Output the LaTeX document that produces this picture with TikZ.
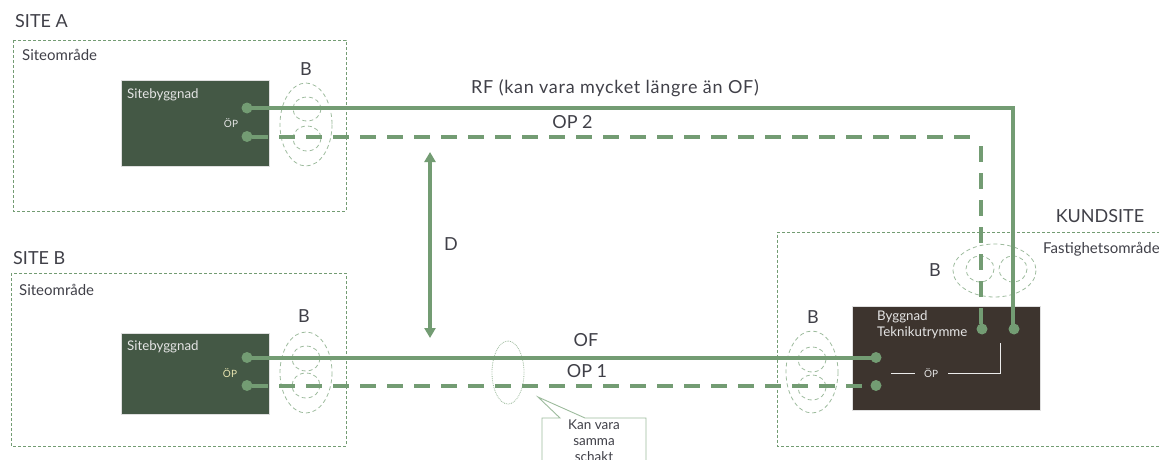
\documentclass[tikz,border=0pt]{standalone}
\usepackage{fontspec}
\setmainfont{Lato}
\usetikzlibrary{arrows.meta}
\definecolor{gline}{HTML}{739C73}
\definecolor{gbox}{HTML}{445845}
\definecolor{bbox}{HTML}{3D342E}
\definecolor{txt}{HTML}{404048}
\definecolor{pale}{HTML}{9DBB9D}
\tikzset{
 x=1pt,y=-1pt,
 area/.style={draw=gline,line width=0.7pt,dash pattern=on 3pt off 2pt},
 bldg/.style={draw=white!75!gray,line width=0.5pt,anchor=north west,inner sep=0pt,outer sep=0pt},
 ringl/.style={draw=pale,line width=0.8pt,dash pattern=on 4pt off 3pt},
 dotn/.style={circle,fill=gline,minimum size=11pt,inner sep=0pt},
 solidc/.style={draw=gline,line width=4pt},
 dashc/.style={draw=gline,line width=4pt,dash pattern=on 16pt off 11pt},
 lab/.style={text=txt,font=\fontsize{18}{20}\selectfont,inner sep=0pt,yshift=-1pt},
 small/.style={text=txt,font=\fontsize{15}{17}\selectfont,inner sep=0pt,anchor=west,yshift=-1pt},
 inb/.style={text=white!80!gray,font=\fontsize{13.3}{15}\selectfont,inner sep=0pt,anchor=west,yshift=-1pt},
 opl/.style={text=white!80!gray,font=\fontsize{10}{11}\selectfont,inner sep=0pt},
 wline/.style={draw=white!85!gray,line width=1pt},
}
\begin{document}
\begin{tikzpicture}
\useasboundingbox (0,0) rectangle (1159,460);
\clip (0,0) rectangle (1159,460);
% areas
\draw[area] (13,40) rectangle (346,211);
\draw[area] (11,273) rectangle (346,446);
\draw[area] (1170,232) -- (777.5,232) -- (777.5,446) -- (1170,446);
% buildings
\node[bldg,fill=gbox,minimum width=148pt,minimum height=86pt] (ba) at (121,80) {};
\node[bldg,fill=gbox,minimum width=148pt,minimum height=81pt] (bb) at (121,333) {};
\node[bldg,fill=bbox,minimum width=188pt,minimum height=104pt] (bk) at (852,306) {};
% rings
\draw[ringl] (306,124.5) ellipse [x radius=26,y radius=41.5];
\draw[ringl] (307,109) ellipse [x radius=14,y radius=12];
\draw[ringl] (307,138.5) ellipse [x radius=14,y radius=12.5];
\draw[ringl] (306,372.5) ellipse [x radius=26,y radius=40.5];
\draw[ringl] (306,358.5) ellipse [x radius=14,y radius=12.5];
\draw[ringl] (306,385.5) ellipse [x radius=14,y radius=12.5];
\draw[ringl] (812,372) ellipse [x radius=26,y radius=41];
\draw[ringl] (812,359.5) ellipse [x radius=14,y radius=12.5];
\draw[ringl] (812,387.5) ellipse [x radius=14,y radius=12.5];
\draw[ringl] (994.5,270.5) ellipse [x radius=41.5,y radius=26.5];
\draw[ringl] (980,269) ellipse [x radius=14,y radius=13];
\draw[ringl] (1013,269) ellipse [x radius=14,y radius=13];
% same-duct ellipse
\draw[pale,line width=0.8pt,densely dotted] (508,372.5) ellipse [x radius=16,y radius=31.5];
% dots
\node[dotn] (a1) at (247,108) {};
\node[dotn] (a2) at (247,136.5) {};
\node[dotn] (b1) at (247,357.5) {};
\node[dotn] (b2) at (247,385.5) {};
\node[dotn] (k1) at (876,357.5) {};
\node[dotn] (k2) at (876,385.5) {};
\node[dotn] (k3) at (982,329) {};
\node[dotn] (k4) at (1014,329) {};
\coordinate (c1) at (1013,108);
\coordinate (c2) at (975,136.5);
\coordinate (c3) at (981,146);
% connectors
\draw[solidc,line join=miter] (a1.center) -- (c1) -- (c1 |- k4.center);
\draw[dashc,dash phase=22pt] (a2.center) -- (c2);
\draw[dashc] (c3) -- (c3 |- k3.center);
\draw[solidc] (b1.center) -- (k1.center);
\draw[dashc,dash phase=22pt] (b2.center) -- (k2.center);
% D arrow
\coordinate (d1) at (430,152);
\coordinate (d2) at (430,338);
\draw[gline,line width=4pt,{Triangle[length=10pt,width=11pt]}-{Triangle[length=10pt,width=11pt]}] (d1) -- (d2);
% white lines inside the customer building
\coordinate (w1) at (891,373);
\coordinate (w2) at (915,373);
\coordinate (w3) at (948,373);
\coordinate (w4) at (1000.5,373);
\coordinate (w5) at (1000.5,343);
\draw[wline] (w1) -- (w2);
\draw[wline] (w3) -- (w4) -- (w5);
% callout
\coordinate (t) at (538,397);
\draw[pale,line width=0.9pt,fill=white] (560,418) -- (t) -- (585,418) -- (646,418) -- (646,470) -- (542,470) -- (542,418) -- cycle;
\node[font=\fontsize{13.5}{16}\selectfont,text=txt,align=center,anchor=north,inner sep=0pt] (ct) at (594,419.5) {Kan vara\\samma\\schakt};
% labels
\node[lab,anchor=west] (sa) at (15,20) {SITE A};
\node[lab,anchor=west] (sb) at (13,257) {SITE B};
\node[lab] (ks) at (1100,215) {KUNDSITE};
\node[small] (oa) at (22,54) {Siteområde};
\node[small] (ob) at (19,289) {Siteområde};
\node[small] (of) at (1043,248) {Fastighetsområde};
\node[inb] (ta) at (127,93.5) {Sitebyggnad};
\node[inb] (tb) at (127,346) {Sitebyggnad};
\node[inb] (tc) at (877,316) {Byggnad};
\node[inb] (td) at (877,332) {Teknikutrymme};
\node[opl] (opa) at (231,123) {ÖP};
\node[opl,text=white!70!yellow!80!gray] (opb) at (230,373) {ÖP};
\node[opl] (opc) at (931,373) {ÖP};
\node[lab] (l1) at (306,68) {B};
\node[lab] (l2) at (304,315) {B};
\node[lab] (l3) at (813,316) {B};
\node[lab] (l4) at (935,269) {B};
\node[lab] (l5) at (451,243) {D};
\node[lab] (rf) at (615,87) {\addfontfeature{LetterSpace=4}RF (kan vara mycket längre än OF)};
\node[lab] (p2) at (572.5,121.5) {OP 2};
\node[lab] (ofl) at (586,339) {OF};
\node[lab] (p1) at (587,370) {OP 1};
\end{tikzpicture}
\end{document}
